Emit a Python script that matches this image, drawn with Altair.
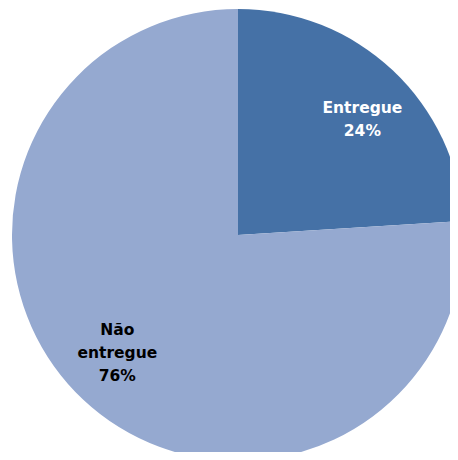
import altair as alt
import pandas as pd

categories = ["Entregue", "Não entregue"]
values = [24, 76]
labels = ["Entregue\n24%", "Não\nentregue\n76%"]
order = [1, 2]

df = pd.DataFrame({"cat": categories, "value": values, "label": labels, "ord": order})

base = alt.Chart(df).encode(
    theta=alt.Theta("value:Q", stack=True),
    order=alt.Order("ord:Q"),
)

pie = base.mark_arc(outerRadius=226, stroke=None).encode(
    x=alt.value(230), y=alt.value(227),
    color=alt.Color("cat:N", scale=alt.Scale(domain=categories, range=["#4571A6", "#95A9D0"]), legend=None),
)

def label_layer(cat, color, r, dx, dy):
    return base.mark_text(
        radius=r, dx=dx, dy=dy, font="DejaVu Sans", fontWeight="bold", fontSize=15.5,
        lineBreak="\n", lineHeight=23, align="center", baseline="middle", color=color,
    ).encode(
        x=alt.value(230), y=alt.value(227),
        text="label:N",
        opacity=alt.condition(alt.datum.cat == cat, alt.value(1), alt.value(0)),
    )

t1 = label_layer(categories[0], "#FFFFFF", 170, 8, -3.5)
t2 = label_layer(categories[1], "#000000", 169, -5, -28)

chart = alt.layer(pie, t1, t2).properties(
    width=442, height=444, autosize=alt.AutoSizeParams(type="none"), padding=0,
).configure_view(stroke=None)

chart.save("out.html", embed_options={"renderer": "svg", "actions": False})
